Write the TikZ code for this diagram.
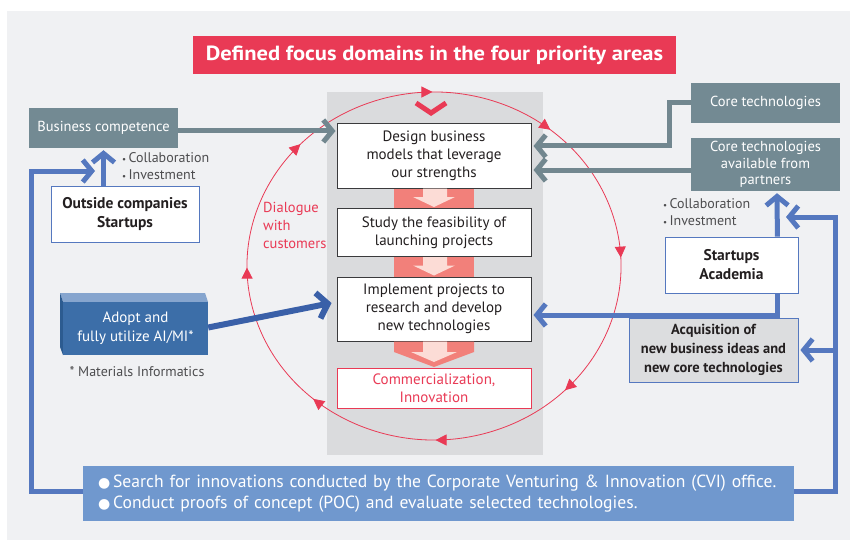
\documentclass[tikz,border=0pt]{standalone}
\usepackage{fontspec}
\setmainfont{PT Sans}
\newfontfamily\widefont[FakeStretch=1.1]{PT Sans}
\newfontfamily\symfont{DejaVu Sans}
\usetikzlibrary{arrows.meta,calc,decorations.markings}

\definecolor{bgpanel}{HTML}{F0F1F3}
\definecolor{column}{HTML}{DADBDD}
\definecolor{accent}{HTML}{E93A55}
\definecolor{slate}{HTML}{738A93}
\definecolor{slateline}{HTML}{72878F}
\definecolor{route}{HTML}{5578BF}
\definecolor{banner}{HTML}{7098CE}
\definecolor{salmon}{HTML}{F2807A}
\definecolor{blush}{HTML}{FCDCD6}
\definecolor{aifront}{HTML}{3C6EA8}
\definecolor{aitop}{HTML}{86A5CE}
\definecolor{aiside}{HTML}{2C5B90}
\definecolor{aiarrow}{HTML}{3A60A8}
\definecolor{acqfill}{HTML}{DCDDDF}
\definecolor{ink}{HTML}{231F20}
\definecolor{note}{HTML}{4D4D4F}
\definecolor{boxedge}{HTML}{3A3A3C}

\newcommand\fsz[2]{\fontsize{#1}{#2}\selectfont}
\newcommand\dotmark{{\symfont\fsz{14}{21.5}●}}

\tikzset{
  x=1pt, y=1pt,
  procbox/.style={draw=boxedge, fill=white, line width=1pt, minimum width=194pt,
    align=center, text=ink, font=\fsz{15}{18}, inner sep=0pt},
  slatebox/.style={fill=slate, text=white, align=center, font=\fsz{14.5}{16.5},
    inner sep=0pt, minimum width=149pt},
  partnerbox/.style={draw=route, line width=0.8pt, fill=white, align=center, text=ink,
    font=\bfseries\fsz{15.5}{19}, inner sep=0pt},
  notetext/.style={text=note, align=left, font=\fsz{14}{17}, inner sep=0pt},
  slatearrow/.style={draw=slateline, line width=5pt,
    -{Straight Barb[length=9pt,width=22pt]}},
  routearrow/.style={draw=route, line width=5pt,
    -{Straight Barb[length=9pt,width=22pt]}},
  cycle/.style={draw=accent, line width=0.8pt},
}

\begin{document}
\begin{tikzpicture}
% page frame and panel
\useasboundingbox (0,0) rectangle (850,-540);
\fill[bgpanel] (7,-11) rectangle (850,-540);

% central process column
\fill[column] (327,-92) rectangle (543,-455);

% title banner
\node[fill=accent, text=white, font=\widefont\bfseries\fsz{20.5}{22}, minimum width=483pt,
      minimum height=38pt, inner sep=0pt] (title) at (434.5,-55)
      {Defined focus domains in the four priority areas};

% customer dialogue cycle (clockwise) with arrowheads
\draw[cycle, decoration={markings,
    mark=at position 0.056 with {\arrow{Triangle[length=11pt,width=11pt]}},
    mark=at position 0.167 with {\arrow{Triangle[length=11pt,width=11pt]}},
    mark=at position 0.300 with {\arrow{Triangle[length=11pt,width=11pt]}},
    mark=at position 0.431 with {\arrow{Triangle[length=11pt,width=11pt]}},
    mark=at position 0.556 with {\arrow{Triangle[length=11pt,width=11pt]}},
    mark=at position 0.672 with {\arrow{Triangle[length=11pt,width=11pt]}},
    mark=at position 0.806 with {\arrow{Triangle[length=11pt,width=11pt]}},
    mark=at position 0.928 with {\arrow{Triangle[length=11pt,width=11pt]}}},
    postaction={decorate}, fill=none]
  (434,-266) ++(110:187 and 174)
  arc[start angle=110, end angle=-250, x radius=187, y radius=174];

% entry chevron at the top of the column
\draw[accent, line width=5pt, line join=miter] (416,-103) -- (431,-113) -- (446,-103);

% process steps
\node[procbox, minimum height=64pt] (b1) at (434,-156)
  {Design business\\models that leverage\\our strengths};
\node[procbox, minimum height=48pt] (b2) at (434,-232.5)
  {Study the feasibility of\\launching projects};
\node[procbox, minimum height=64pt] (b3) at (434,-309)
  {Implement projects to\\research and develop\\new technologies};
\node[procbox, draw=accent, text=accent, minimum height=40pt] (b4) at (434,-388)
  {Commercialization,\\Innovation};

% flow bands between steps
\fill[salmon] (394,-188.5) rectangle (474,-208);
\fill[blush] (423,-188.5) -- (447,-188.5) -- (447,-197) -- (455,-197) -- (434,-207)
  -- (413,-197) -- (423,-197) -- cycle;
\fill[salmon] (394,-257) rectangle (474,-276.5);
\fill[blush] (423,-257) -- (447,-257) -- (447,-265.5) -- (455,-265.5) -- (434,-275.5)
  -- (413,-265.5) -- (423,-265.5) -- cycle;
\fill[salmon] (394,-341.5) -- (474,-341.5) -- (474,-352) -- (434,-367) -- (394,-352) -- cycle;
\fill[blush] (423,-341.5) -- (447,-341.5) -- (447,-352) -- (457,-352) -- (434,-362)
  -- (411,-352) -- (423,-352) -- cycle;

% dialogue label
\node[anchor=north west, text=accent, align=left, font=\fsz{14.5}{18}, inner sep=0pt]
  (dialogue) at (263,-202) {Dialogue\\with\\customers};

% left side: competence and outside partners
\node[slatebox, minimum height=40pt] (bizcomp) at (103.5,-128) {Business competence};
\node[partnerbox, minimum width=148pt, minimum height=56pt] (outside) at (125,-214)
  {Outside companies\\Startups};
\node[notetext, anchor=north west] (collabL) at (122,-152)
  {{\fsz{9}{17}\textbullet}\,Collaboration\\{\fsz{9}{17}\textbullet}\,Investment};

% AI/MI block drawn as a shallow box
\fill[aitop] (60,-293) -- (205,-293) -- (208,-302) -- (63,-302) -- cycle;
\fill[aiside] (60,-293) -- (63,-302) -- (63,-355) -- (60,-347) -- cycle;
\node[fill=aifront, text=white, minimum width=145pt, minimum height=53pt, inner sep=0pt,
      align=center, font=\fsz{15}{19}] (ai) at (135.5,-328.5)
  {Adopt and\\fully utilize AI/MI*};
\node[text=note, font=\fsz{14}{17}, inner sep=0pt] (mi) at (137,-372)
  {* Materials Informatics};

% right side: core technologies and partners
\node[slatebox, minimum height=40pt] (core) at (765.5,-103) {Core technologies};
\node[slatebox, minimum height=53pt] (corepart) at (765.5,-164.5)
  {Core technologies\\available from\\partners};
\node[notetext, anchor=north west] (collabR) at (663,-198)
  {{\fsz{9}{17}\textbullet}\,Collaboration\\{\fsz{9}{17}\textbullet}\,Investment};
\node[partnerbox, minimum width=133pt, minimum height=56pt] (startups) at (731.5,-265)
  {Startups\\Academia};
\node[draw=route, line width=0.8pt, fill=acqfill, text=ink, align=center,
      font=\bfseries\fsz{14.5}{19}, minimum width=169pt, minimum height=64pt, inner sep=0pt]
  (acq) at (713.5,-350) {Acquisition of\\new business ideas and\\new core technologies};

% CVI banner
\node[fill=banner, text=white, text width=681pt, inner xsep=15pt, inner ysep=0pt,
      minimum height=55pt, align=left, font=\fsz{17.6}{21.5}] (cvi) at (438.5,-493.5)
  {\mbox{\dotmark\,Search for innovations conducted by the Corporate Venturing \& Innovation (CVI) office.}\\
   \mbox{\dotmark\,Conduct proofs of concept (POC) and evaluate selected technologies.}};

% connectors: slate (inputs to the design step)
\draw[slatearrow] ($(bizcomp.east)+(0,-3)$) -- ($(bizcomp.east -| b1.west)+(-1,-3)$);
\draw[slatearrow] (core.west) -- ++(-21,0) |- ($(b1.east)+(2,10)$);
\draw[slatearrow] ($(corepart.west)+(0,-5.5)$) -- ($(b1.east)+(2,-14)$);

% connectors: partner routes
\draw[routearrow] (bizcomp.south |- outside.north) -- ($(bizcomp.south)+(0,-2)$);
\draw[routearrow] ($(startups.north east)+(-21,0)$) -- ($(corepart.south)+(11.5,-2)$);
\draw[routearrow] ($(startups.south east)+(-21,0)$) |- ($(b3.east)+(2,-6)$);

% CVI loops back to both partner groups
\coordinate (leftturn) at (31,-491);
\coordinate (rightturn) at (835,-491);
\draw[routearrow] (cvi.west |- leftturn) -- (leftturn) |- (95,-171);
\draw[routearrow] (cvi.east |- rightturn) -- (rightturn) |- (786,-217);
\draw[routearrow] (rightturn |- acq.east) -- ($(acq.east)+(2,0)$);

% AI/MI feeds the implementation step
\draw[aiarrow, line width=6pt, -{Straight Barb[length=10pt,width=26pt]}]
  ($(ai.east)+(0,1)$) -- ($(b3.west)+(-5,6)$);
\end{tikzpicture}
\end{document}
